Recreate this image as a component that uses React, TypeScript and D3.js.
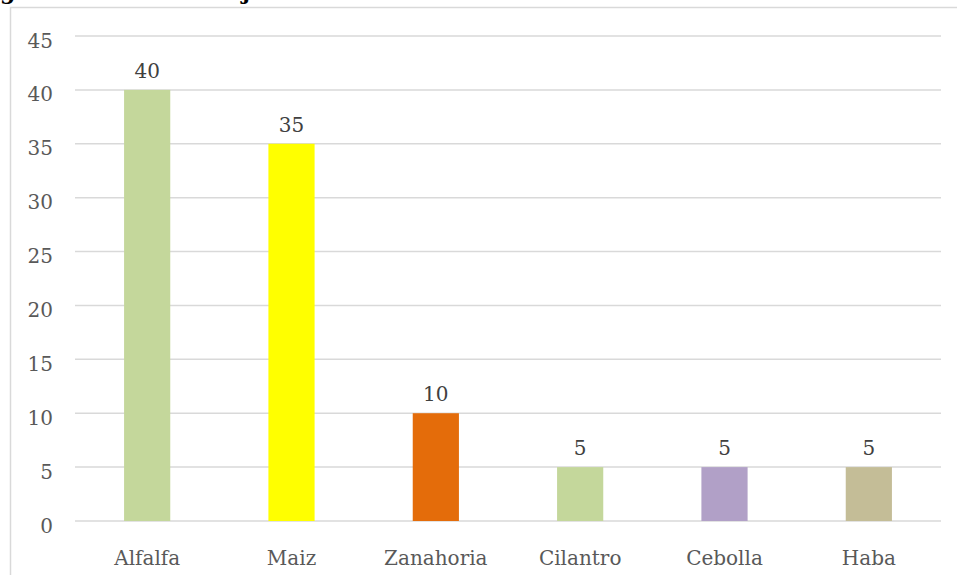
import React from "react";
import * as d3 from "d3";

const categories = ["Alfalfa", "Maiz", "Zanahoria", "Cilantro", "Cebolla", "Haba"];
const values = [40, 35, 10, 5, 5, 5];
const barColors = ["#C4D79B", "#FFFF00", "#E46C0A", "#C4D79B", "#B1A0C7", "#C4BD97"];
const yTicks = [0, 5, 10, 15, 20, 25, 30, 35, 40, 45];

const W = 957;
const H = 575;
const FONT = "'DejaVu Serif', 'Liberation Serif', serif";
const FS = 20;

export default function App() {
  const x = d3.scaleBand<string>().domain(categories).range([75, 941]).paddingInner(0.68).paddingOuter(0.34);
  const y = d3.scaleLinear().domain([0, 45]).range([521, 36]);

  return (
    <svg width={W} height={H} style={{ position: "absolute", left: 0, top: 0, background: "#fff" }}>
      <rect x={0} y={0} width={W} height={H} fill="#fff" />
      {/* cropped title fragments */}
      <text x={0} y={-1} fontFamily={FONT} fontWeight="bold" fontSize={22} fill="#000">g</text>
      <text x={242} y={-1} fontFamily={FONT} fontWeight="bold" fontSize={22} fill="#000">j</text>
      {/* chart frame */}
      <path d={`M10.5,${H} V7.5 H${W}`} fill="none" stroke="#D9D9D9" strokeWidth={1.5} />
      {yTicks.map((t) => (
        <g key={t}>
          <line x1={75} x2={941} y1={y(t)} y2={y(t)} stroke="#D9D9D9" strokeWidth={1.5} />
          <text x={53} y={y(t) + 11.5} textAnchor="end" fontFamily={FONT} fontSize={FS} fill="#595959">
            {t}
          </text>
        </g>
      ))}
      {categories.map((c, i) => (
        <g key={c}>
          <rect x={x(c)} y={y(values[i])} width={x.bandwidth()} height={y(0) - y(values[i])} fill={barColors[i]} />
          <text
            x={(x(c) as number) + x.bandwidth() / 2}
            y={y(values[i]) - 12}
            textAnchor="middle"
            fontFamily={FONT}
            fontSize={FS}
            fill="#404040"
          >
            {values[i]}
          </text>
          <text
            x={(x(c) as number) + x.bandwidth() / 2}
            y={565}
            textAnchor="middle"
            fontFamily={FONT}
            fontSize={FS}
            fill="#595959"
          >
            {c}
          </text>
        </g>
      ))}
    </svg>
  );
}
